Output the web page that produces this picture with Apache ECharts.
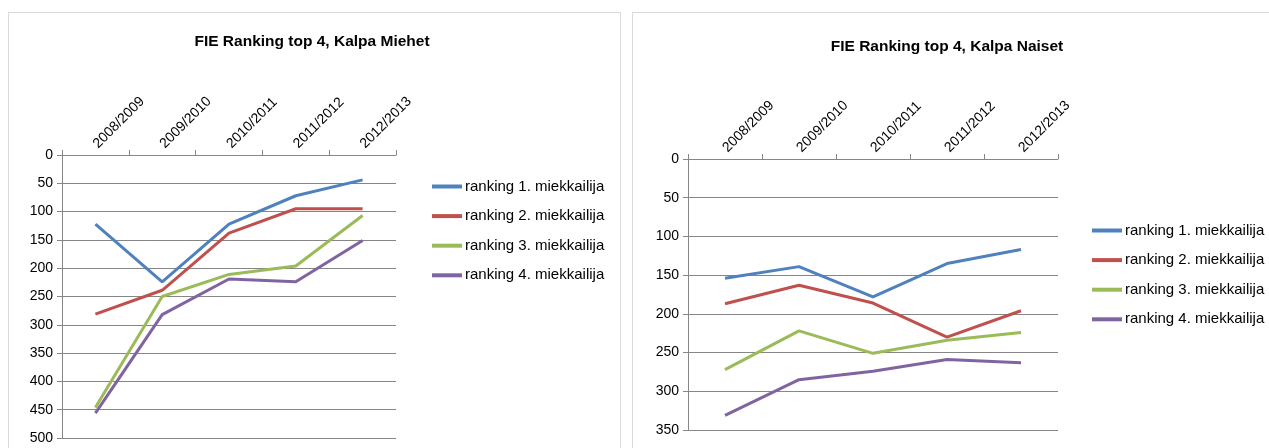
<!DOCTYPE html>
<html><head><meta charset="utf-8">
<script src="https://cdn.jsdelivr.net/npm/echarts@6/dist/echarts.min.js"></script>
<style>
html,body{margin:0;padding:0;background:#fff;overflow:hidden;width:1269px;height:448px;}
.box{position:absolute;border:1px solid #d9d9d9;background:#fff;}
</style></head>
<body>
<div id="c1" class="box" style="left:8px;top:12px;width:611px;height:450px;"></div>
<div id="c2" class="box" style="left:632px;top:12px;width:660px;height:450px;"></div>
<script>
const categories = ['2008/2009','2009/2010','2010/2011','2011/2012','2012/2013'];
const seriesNames = ['ranking 1. miekkailija','ranking 2. miekkailija','ranking 3. miekkailija','ranking 4. miekkailija'];
const colors = ['#4F81BD','#C0504D','#9BBB59','#8064A2'];

const miehetTitle = 'FIE Ranking top 4, Kalpa Miehet';
const miehet1 = [122, 224, 122, 72, 44];
const miehet2 = [281, 239, 138, 95, 95];
const miehet3 = [446, 250, 211, 196, 107];
const miehet4 = [456, 282, 219, 224, 151];

const naisetTitle = 'FIE Ranking top 4, Kalpa Naiset';
const naiset1 = [154, 139, 178, 135, 117];
const naiset2 = [187, 163, 186, 230, 196];
const naiset3 = [272, 222, 251, 234, 224];
const naiset4 = [331, 285, 274, 259, 263];

const FONT = '"Liberation Sans", Arial, sans-serif';

function build(el, title, data, yMax, g, titlePos, legendPos) {
  const chart = echarts.init(document.getElementById(el), null, {renderer:'canvas'});
  chart.setOption({
    animation: false,
    textStyle: {fontFamily: FONT},
    title: {
      text: title, left: titlePos.left, top: titlePos.top, textAlign: 'center',
      textStyle: {fontFamily: FONT, fontSize: 15.5, fontWeight: 'bold', color: '#000'}
    },
    legend: {
      orient: 'vertical', left: legendPos.left, top: legendPos.top,
      icon: 'rect', itemWidth: 30, itemHeight: 4, itemGap: 14.6,
      textStyle: {fontFamily: FONT, fontSize: 15, color: '#000', padding: [0,0,0,-2]},
      data: seriesNames
    },
    grid: {left: g.left, top: g.top, width: g.width, height: g.height, containLabel: false},
    xAxis: {
      type: 'category', position: 'top', data: categories, boundaryGap: true,
      axisLine: {lineStyle: {color: '#868686', width: 1}},
      axisTick: {show: true, inside: false, length: 5, alignWithLabel: false, lineStyle: {color: '#868686'}},
      axisLabel: {rotate: 45, fontFamily: FONT, fontSize: 14, color: '#000', margin: 9},
      splitLine: {show: false}
    },
    yAxis: {
      type: 'value', inverse: true, min: 0, max: yMax, interval: 50,
      axisLine: {show: true, lineStyle: {color: '#868686', width: 1}},
      axisTick: {show: true, length: 5, lineStyle: {color: '#868686'}},
      axisLabel: {fontFamily: FONT, fontSize: 14, color: '#000', margin: 9},
      splitLine: {show: true, lineStyle: {color: '#868686', width: 1}}
    },
    series: data.map((d, i) => ({
      name: seriesNames[i], type: 'line', data: d, symbol: 'none', showSymbol: false,
      lineStyle: {color: colors[i], width: 3}, itemStyle: {color: colors[i]}
    }))
  });
}

build('c1', miehetTitle, [miehet1, miehet2, miehet3, miehet4], 500,
  {left: 53, top: 142, width: 334, height: 283},
  {left: 298, top: 16}, {left: 418, top: 161});
build('c2', naisetTitle, [naiset1, naiset2, naiset3, naiset4], 350,
  {left: 55, top: 146, width: 370, height: 271},
  {left: 309, top: 21}, {left: 454, top: 205});
</script>
</body></html>
